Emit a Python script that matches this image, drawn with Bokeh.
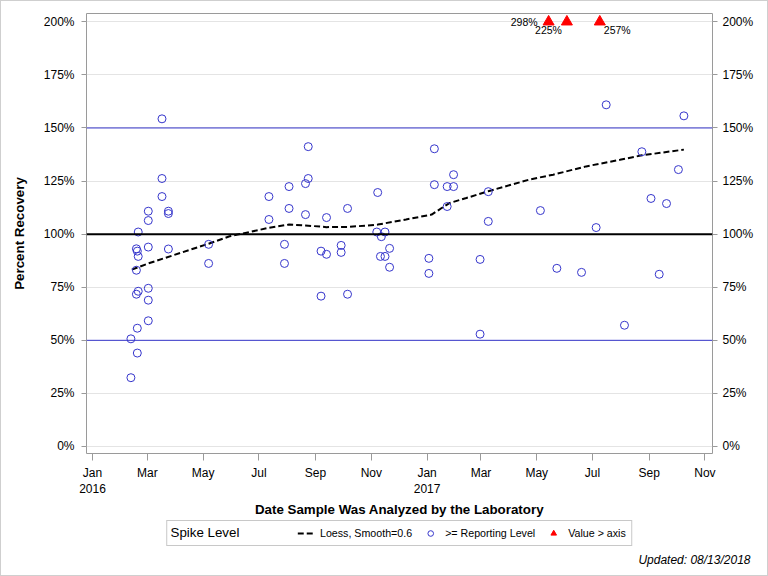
import pandas as pd
from bokeh.plotting import figure
from bokeh.layouts import column
from bokeh.models import (Range1d, LinearAxis, FixedTicker, PrintfTickFormatter, Span,
                          Legend, LegendItem, Label, Title, ColumnDataSource)
from bokeh.embed import file_html
from bokeh.resources import INLINE
from bokeh.core.properties import value

# ---------------- data ----------------
sample_dates = [
    "2016-02-12", "2016-02-19", "2016-02-12", "2016-02-19", "2016-03-02", "2016-03-02",
    "2016-02-18", "2016-02-20", "2016-03-02", "2016-02-18", "2016-02-20", "2016-02-19",
    "2016-02-18", "2016-03-02", "2016-03-24", "2016-02-20", "2016-03-02", "2016-03-02",
    "2016-03-24", "2016-03-24", "2016-03-17", "2016-03-17", "2016-03-17", "2016-05-07",
    "2016-05-07", "2016-07-12", "2016-07-12", "2016-07-29", "2016-07-29", "2016-08-03",
    "2016-08-03", "2016-08-21", "2016-08-21", "2016-08-24", "2016-08-24", "2016-09-07",
    "2016-09-07", "2016-09-13", "2016-09-13", "2016-09-29", "2016-09-29", "2016-10-06",
    "2016-10-06", "2016-11-07", "2016-11-08", "2016-11-12", "2016-11-16", "2016-11-11",
    "2016-11-16", "2016-11-21", "2016-11-21", "2017-01-03", "2017-01-03", "2017-01-09",
    "2017-01-09", "2017-01-23", "2017-01-23", "2017-01-30", "2017-01-30", "2017-02-28",
    "2017-02-28", "2017-03-09", "2017-03-09", "2017-05-05", "2017-05-23", "2017-06-19",
    "2017-07-05", "2017-07-16", "2017-08-05", "2017-08-24", "2017-09-03", "2017-09-12",
    "2017-09-20", "2017-10-03", "2017-10-09",
]
percent_recovery = [
    32.4, 44.0, 50.7, 55.7, 59.2, 68.9,
    71.7, 73.1, 74.5, 83.0, 89.5, 92.0,
    93.1, 93.9, 93.0, 101.0, 106.4, 110.8,
    110.8, 109.7, 117.7, 126.2, 154.3, 95.2,
    86.2, 117.7, 106.9, 95.2, 86.2, 122.4,
    112.1, 123.8, 109.2, 141.2, 126.2, 92.0,
    70.8, 107.8, 90.5, 94.7, 91.4, 112.1,
    71.7, 101.0, 119.6, 98.8, 101.0, 89.5,
    89.5, 93.3, 84.4, 88.6, 81.5, 140.2,
    123.3, 122.4, 113.0, 122.4, 128.0, 88.1,
    52.9, 120.0, 106.0, 111.1, 83.9, 82.0,
    103.1, 160.9, 57.1, 138.8, 116.8, 81.1,
    114.4, 130.4, 155.7,
]

loess_dates = [
    "2016-02-13", "2016-03-02", "2016-05-07", "2016-05-30", "2016-06-21", "2016-07-12",
    "2016-08-03", "2016-08-21", "2016-09-13", "2016-10-08", "2016-11-08", "2016-12-09",
    "2017-01-06", "2017-01-17", "2017-01-26", "2017-02-13", "2017-03-09", "2017-04-23",
    "2017-05-19", "2017-06-24", "2017-07-31", "2017-08-24", "2017-10-09",
]
loess_values = [
    83.3, 86.2, 95.5, 99.0, 101.0, 103.0,
    104.5, 104.1, 103.3, 103.4, 104.5, 106.9,
    109.2, 112.3, 114.7, 117.0, 120.2, 125.7,
    128.0, 131.9, 135.0, 137.1, 139.8,
]

over_dates = ["2017-05-14", "2017-06-03", "2017-07-09"]
over_values = [298, 225, 257]
AXIS_MAX = 200

y_ticks = [0, 25, 50, 75, 100, 125, 150, 175, 200]
x_tick_dates = ["2016-01-01", "2016-03-01", "2016-05-01", "2016-07-01", "2016-09-01",
                "2016-11-01", "2017-01-01", "2017-03-01", "2017-05-01", "2017-07-01",
                "2017-09-01", "2017-11-01"]
x_tick_labels = ["Jan\n2016", "Mar", "May", "Jul", "Sep", "Nov",
                 "Jan\n2017", "Mar", "May", "Jul", "Sep", "Nov"]

legend_title = "Spike Level"
legend_labels = ["Loess, Smooth=0.6", ">= Reporting Level", "Value > axis"]
footnote = "Updated: 08/13/2018"

# ---------------- helpers ----------------
def ms(d):
    return int(pd.Timestamp(d).value // 10**6)

FONT = "Liberation Sans"
BLUE = "#3636cc"
RED = "#ff0000"
AXIS_GRAY = "#9a9a9a"

LOESS_STYLE = dict(line_color="black", line_width=2, line_dash="6 3")
PTS_STYLE = dict(marker="circle", size=8, line_color=BLUE, fill_color=None, line_width=1)
TRI_STYLE = dict(marker="triangle", size=11, line_color=RED, fill_color=RED)

x_start = ms("2016-01-01") - int(6.6 * 86400000)
x_end = ms("2017-11-09") + int(0.3 * 86400000)

W, H_MAIN, H_FOOT = 766, 519, 55

p = figure(width=W, height=H_MAIN, x_axis_type="datetime",
           x_range=Range1d(x_start, x_end), y_range=Range1d(-3.3, 203.9),
           output_backend="svg", toolbar_location=None,
           min_border_left=85, min_border_right=55, min_border_top=12, min_border_bottom=67)
p.background_fill_color = "white"
p.border_fill_color = "white"
p.outline_line_color = AXIS_GRAY
p.outline_line_width = 1

# grid
p.xgrid.visible = False
p.ygrid.ticker = FixedTicker(ticks=y_ticks)
p.ygrid.grid_line_color = "#e4e4e4"
p.ygrid.grid_line_width = 1

# reference lines
p.add_layout(Span(location=100, dimension="width", line_color="black", line_width=2))
p.add_layout(Span(location=50, dimension="width", line_color=BLUE, line_width=1))
p.add_layout(Span(location=150, dimension="width", line_color=BLUE, line_width=1))

# data glyphs
pts_src = ColumnDataSource(dict(x=pd.to_datetime(sample_dates), y=percent_recovery))
loess_src = ColumnDataSource(dict(x=pd.to_datetime(loess_dates), y=loess_values))
over_src = ColumnDataSource(dict(
    x=pd.to_datetime(over_dates),
    y=[AXIS_MAX] * len(over_values),
    label=[f"{v}%" for v in over_values],
))

p.line("x", "y", source=loess_src, **LOESS_STYLE)
p.scatter("x", "y", source=pts_src, **PTS_STYLE)
p.scatter("x", "y", source=over_src, **TRI_STYLE)

# labels for off-axis values (placement offsets)
over_src.data["xo"] = [-11, -5, 4]
over_src.data["yo"] = [0, 8, 8]
over_src.data["al"] = ["right", "right", "left"]
p.text("x", "y", text="label", source=over_src, x_offset="xo", y_offset="yo",
       text_align="al", text_baseline="middle", text_font=value(FONT),
       text_font_size=value("10.5px"), text_color="black")

# axes
tick_ms = [ms(d) for d in x_tick_dates]
xa = p.xaxis[0]
xa.ticker = FixedTicker(ticks=tick_ms)
xa.major_label_overrides = {t: lab for t, lab in zip(tick_ms, x_tick_labels)}
xa.minor_tick_line_color = None
xa.axis_line_color = None
xa.major_tick_line_color = AXIS_GRAY
xa.major_tick_out = 7
xa.major_tick_in = 0
xa.major_label_standoff = 5
xa.major_label_text_font = FONT
xa.major_label_text_font_size = "12px"
xa.major_label_text_color = "black"
xa.axis_label = "Date Sample Was Analyzed by the Laboratory"
xa.axis_label_text_font = FONT
xa.axis_label_text_font_size = "10pt"
xa.axis_label_text_font_style = "bold"
xa.axis_label_text_color = "black"
xa.axis_label_standoff = 3

ya = p.yaxis[0]
ya.ticker = FixedTicker(ticks=y_ticks)
ya.formatter = PrintfTickFormatter(format="%d%%")
ya.minor_tick_line_color = None
ya.axis_line_color = None
ya.major_tick_line_color = AXIS_GRAY
ya.major_tick_out = 5
ya.major_tick_in = 0
ya.major_label_standoff = 7
ya.major_label_text_font = FONT
ya.major_label_text_font_size = "12px"
ya.major_label_text_color = "black"
ya.axis_label = "Percent Recovery"
ya.axis_label_text_font = FONT
ya.axis_label_text_font_size = "10pt"
ya.axis_label_text_font_style = "bold"
ya.axis_label_text_color = "black"
ya.axis_label_standoff = 14

ra = LinearAxis(ticker=FixedTicker(ticks=y_ticks), formatter=PrintfTickFormatter(format="%d%%"))
ra.minor_tick_line_color = None
ra.axis_line_color = None
ra.major_tick_line_color = AXIS_GRAY
ra.major_tick_out = 5
ra.major_tick_in = 0
ra.major_label_standoff = 5
ra.major_label_text_font = FONT
ra.major_label_text_font_size = "12px"
ra.major_label_text_color = "black"
p.add_layout(ra, "right")

# ---------------- legend / footnote strip ----------------
f = figure(width=W, height=H_FOOT, x_range=Range1d(0, 1), y_range=Range1d(0, 1),
           output_backend="svg", toolbar_location=None,
           x_axis_location=None, y_axis_location=None,
           min_border_left=0, min_border_right=0, min_border_top=0, min_border_bottom=25)
f.grid.visible = False
f.outline_line_color = None
f.background_fill_color = "white"
f.border_fill_color = "white"

# legend proxies: same styles as the plotted series, one point outside the visible range
head_r = f.scatter(x=[-5], y=[-5], marker="circle", size=1, line_alpha=0, fill_alpha=0)
loess_proxy = f.line(x=[-5, -4], y=[-5, -5], **LOESS_STYLE)
pts_proxy = f.scatter(x=[-5], y=[-5], **PTS_STYLE)
tri_proxy = f.scatter(x=[-5], y=[-5], **TRI_STYLE)

legend = Legend(
    items=[
        LegendItem(label="\u00a0" * 31, renderers=[head_r]),
        LegendItem(label=legend_labels[0], renderers=[loess_proxy]),
        LegendItem(label=legend_labels[1], renderers=[pts_proxy]),
        LegendItem(label=legend_labels[2], renderers=[tri_proxy]),
    ],
    orientation="horizontal", location="top_center",
    label_text_font=FONT, label_text_font_size="8pt", label_text_color="black",
    glyph_width=16, glyph_height=14, label_standoff=7, spacing=10,
    padding=5, margin=0,
    border_line_color="#c8c8c8", border_line_width=1, border_line_alpha=1,
    background_fill_alpha=0,
)
f.add_layout(legend)

f.add_layout(Label(x=169, y=12, x_units="canvas", y_units="canvas", level="overlay",
                   text=legend_title, text_align="left", text_baseline="middle",
                   text_font=FONT, text_font_size="10pt", text_color="black"))

f.add_layout(Title(text=footnote, align="right", offset=-38, standoff=0,
                   text_font=FONT, text_font_size="12px", text_font_style="italic",
                   text_color="black"), "below")

layout = column(p, f, spacing=0, styles={"border": "1px solid #cfcfcf"})

open("out.html", "w").write(file_html(layout, INLINE))
